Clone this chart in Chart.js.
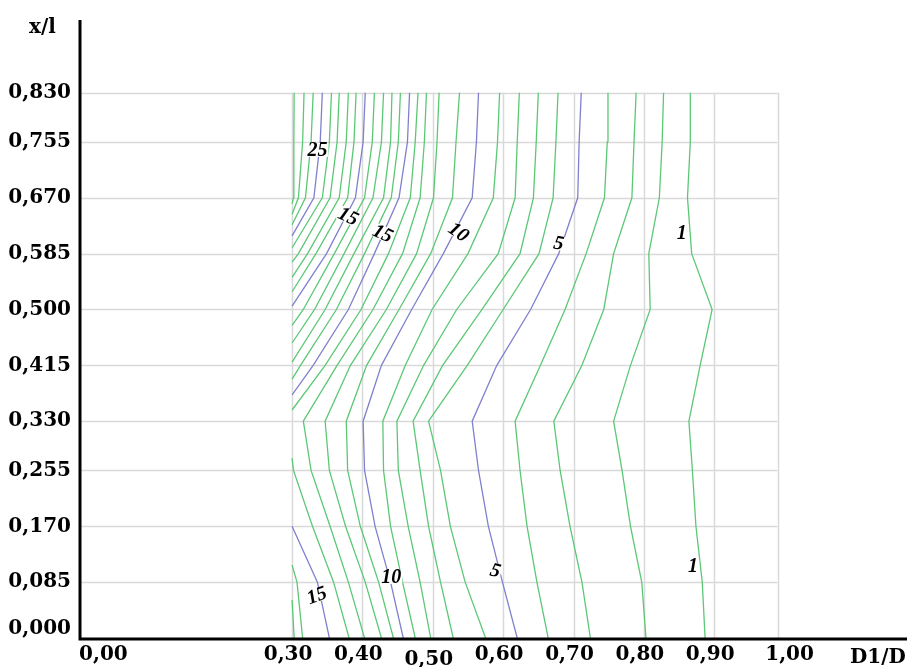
<!DOCTYPE html>
<html>
<head>
<meta charset="utf-8">
<title>D1/D contour</title>
<script src="https://cdn.jsdelivr.net/npm/chart.js@4.4.0/dist/chart.umd.min.js"></script>
<style>
  html, body { margin: 0; padding: 0; background: #fff; }
  #wrap { width: 911px; height: 667px; }
</style>
</head>
<body>
<div id="wrap"><canvas id="contour" width="911" height="667"></canvas></div>
<script>
// Rows of the data grid (x/l), bottom to top
const rows = [0, 0.085, 0.17, 0.255, 0.33, 0.415, 0.5, 0.585, 0.67, 0.755, 0.83];

// Axis ticks
const xTicks = [0, 0.3, 0.4, 0.5, 0.6, 0.7, 0.8, 0.9, 1.0];
const yTicks = [0, 0.085, 0.17, 0.255, 0.33, 0.415, 0.5, 0.585, 0.67, 0.755, 0.83];
const gridX = [0.3, 0.4, 0.5, 0.6, 0.7, 0.8, 0.9, 0.99];
const edgeX = 0.3;

// D1/D where each contour level crosses each row (null = not on that row)
const contourX = {
  1:  [0.887, 0.883, 0.874, 0.869, 0.864, 0.880, 0.897, 0.868, 0.862, 0.866, 0.866],
  2:  [0.803, 0.797, 0.781, 0.769, 0.757, 0.781, 0.809, 0.807, 0.822, 0.826, 0.828],
  3:  [0.724, 0.712, 0.695, 0.681, 0.672, 0.712, 0.743, 0.757, 0.783, 0.786, 0.789],
  4:  [0.664, 0.648, 0.634, 0.624, 0.617, 0.653, 0.688, 0.718, 0.744, 0.748, 0.749],
  5:  [0.620, 0.599, 0.579, 0.565, 0.556, 0.591, 0.639, 0.679, 0.706, 0.708, 0.711],
  6:  [0.575, 0.546, 0.525, 0.511, 0.494, 0.549, 0.600, 0.651, 0.671, 0.675, 0.678],
  7:  [0.529, 0.511, 0.494, 0.482, 0.472, 0.514, 0.570, 0.624, 0.643, 0.647, 0.650],
  8:  [0.497, 0.482, 0.465, 0.451, 0.449, 0.487, 0.534, 0.593, 0.617, 0.620, 0.623],
  9:  [0.475, 0.457, 0.440, 0.430, 0.429, 0.461, 0.499, 0.550, 0.586, 0.592, 0.595],
  10: [0.458, 0.440, 0.418, 0.403, 0.401, 0.427, 0.470, 0.515, 0.556, 0.562, 0.565],
  11: [0.444, 0.423, 0.397, 0.379, 0.377, 0.406, 0.452, 0.497, 0.528, 0.533, 0.538],
  12: [0.427, 0.404, 0.376, 0.353, 0.347, 0.383, 0.434, 0.477, 0.501, 0.506, 0.509],
  13: [0.403, 0.380, 0.354, 0.327, 0.316, 0.364, 0.415, 0.457, 0.482, 0.488, 0.491],
  14: [0.381, 0.359, 0.329, 0.302, null, 0.347, 0.398, 0.437, 0.468, 0.475, 0.479],
  15: [0.353, 0.336, null, null, null, 0.330, 0.380, 0.417, 0.452, 0.464, 0.467],
  16: [0.315, 0.307, null, null, null, 0.312, 0.363, 0.403, 0.441, 0.451, 0.454],
  17: [0.303, null, null, null, null, null, 0.347, 0.388, 0.430, 0.440, 0.442],
  18: [null, null, null, null, null, null, 0.332, 0.374, 0.415, 0.427, 0.430],
  19: [null, null, null, null, null, null, 0.316, 0.360, 0.403, 0.414, 0.417],
  20: [null, null, null, null, null, null, null, 0.349, 0.390, 0.401, 0.404],
  21: [null, null, null, null, null, null, null, 0.334, 0.379, 0.388, 0.391],
  22: [null, null, null, null, null, null, null, 0.322, 0.367, 0.377, 0.380],
  23: [null, null, null, null, null, null, null, 0.309, 0.354, 0.364, 0.367],
  24: [null, null, null, null, null, null, null, null, 0.343, 0.353, 0.356],
  25: [null, null, null, null, null, null, null, null, 0.331, 0.340, 0.343],
  26: [null, null, null, null, null, null, null, null, 0.319, 0.327, 0.330],
  27: [null, null, null, null, null, null, null, null, 0.309, 0.315, 0.317],
  28: [null, null, null, null, null, null, null, null, 0.302, 0.3025, 0.303]
};

// x/l where a level meets the left edge D1/D = 0.30 (ascending)
const edgeY = {
  14: [0.274, 0.347],
  15: [0.170, 0.370],
  16: [0.111, 0.394],
  17: [0.058, 0.420],
  18: [0.449],
  19: [0.476],
  20: [0.505],
  21: [0.527],
  22: [0.549],
  23: [0.572],
  24: [0.594],
  25: [0.612],
  26: [0.629],
  27: [0.645],
  28: [0.661]
};

// in-line labels: text, D1/D, x/l, angle (deg)
const contourLabels = [
  ['25', 0.336, 0.743, 0],
  ['15', 0.380, 0.642, 25],
  ['15', 0.429, 0.616, 25],
  ['10', 0.537, 0.618, 35],
  ['5', 0.679, 0.601, 10],
  ['1', 0.854, 0.616, 0],
  ['15', 0.335, 0.065, -20],
  ['10', 0.441, 0.093, 0],
  ['5', 0.589, 0.103, 15],
  ['1', 0.870, 0.110, 0]
];

const green = 'rgb(92,200,118)';
const blue = 'rgb(128,128,206)';
const labelFont = 'bold 20px "DejaVu Serif"';

function segmentsFor(xs, edges) {
  const segs = [];
  let cur = null;
  let e = 0;
  rows.forEach((y, i) => {
    const x = xs[i];
    if (x === null) {
      if (cur) {
        cur.push({ x: edgeX, y: edges[e++] });
        segs.push(cur);
        cur = null;
      }
      return;
    }
    if (!cur) {
      cur = [];
      if (i > 0) cur.push({ x: edgeX, y: edges[e++] });
    }
    cur.push({ x: x, y: y });
  });
  if (cur) segs.push(cur);
  return segs;
}

const datasets = [];
Object.keys(contourX).forEach(function(k) {
  const level = Number(k);
  segmentsFor(contourX[k], edgeY[k] || []).forEach(function(seg) {
    datasets.push({
      label: 'level ' + level,
      data: seg,
      showLine: true,
      borderColor: level % 5 === 0 ? blue : green,
      borderWidth: 1.3,
      pointRadius: 0,
      fill: false,
      tension: 0
    });
  });
});

const fmt = (v, d) => v.toFixed(d).replace('.', ',');

// grid, axes, tick labels and contour labels
const framePlugin = {
  id: 'frame',
  beforeDatasetsDraw(chart) {
    const ctx = chart.ctx;
    const xs = chart.scales.x, ys = chart.scales.y;
    ctx.save();
    ctx.strokeStyle = '#d9d9d9';
    ctx.lineWidth = 1.5;
    gridX.forEach(function(v) {
      const px = Math.round(xs.getPixelForValue(v)) + 0.5;
      ctx.beginPath();
      ctx.moveTo(px, ys.getPixelForValue(0));
      ctx.lineTo(px, ys.getPixelForValue(0.83));
      ctx.stroke();
    });
    yTicks.forEach(function(v) {
      if (v === 0) return;
      const py = Math.round(ys.getPixelForValue(v)) + 0.5;
      ctx.beginPath();
      ctx.moveTo(xs.getPixelForValue(0), py);
      ctx.lineTo(xs.getPixelForValue(0.99), py);
      ctx.stroke();
    });
    ctx.restore();
  },
  afterDatasetsDraw(chart) {
    const ctx = chart.ctx;
    const xs = chart.scales.x, ys = chart.scales.y;
    const area = chart.chartArea;
    ctx.save();

    // contour labels
    ctx.font = 'italic bold 20px "Liberation Serif"';
    ctx.textAlign = 'center';
    ctx.textBaseline = 'middle';
    contourLabels.forEach(function(l) {
      const px = xs.getPixelForValue(l[1]);
      const py = ys.getPixelForValue(l[2]);
      const w = ctx.measureText(l[0]).width;
      ctx.save();
      ctx.translate(px, py);
      ctx.rotate(l[3] * Math.PI / 180);
      ctx.fillStyle = '#fff';
      ctx.fillRect(-w / 2 - 1, -7, w + 2, 14);
      ctx.fillStyle = '#000';
      ctx.fillText(l[0], 0, 1);
      ctx.restore();
    });

    // axis lines
    ctx.strokeStyle = '#000';
    ctx.lineWidth = 3;
    ctx.beginPath();
    ctx.moveTo(area.left - 1, area.top);
    ctx.lineTo(area.left - 1, area.bottom + 1);
    ctx.lineTo(area.right, area.bottom + 1);
    ctx.stroke();

    ctx.fillStyle = '#000';
    ctx.font = labelFont;

    // y tick labels
    ctx.textAlign = 'right';
    ctx.textBaseline = 'middle';
    yTicks.forEach(function(v) {
      let py = ys.getPixelForValue(v);
      if (v === 0) py -= 9;
      ctx.fillText(fmt(v, 3), 71, py);
    });

    // x tick labels
    ctx.textBaseline = 'middle';
    xTicks.forEach(function(v) {
      const px = xs.getPixelForValue(v);
      let y = 655;
      if (v === 0) {
        ctx.textAlign = 'left';
        ctx.fillText(fmt(v, 2), px - 2, y);
        return;
      }
      ctx.textAlign = 'center';
      if (Math.abs(v - 0.5) < 1e-9) y += 5;
      ctx.fillText(fmt(v, 2), v === 1 ? px + 5 : px - 4, y);
    });

    // axis titles
    ctx.textAlign = 'left';
    ctx.textBaseline = 'alphabetic';
    ctx.fillText('x/l', 29, 33);
    ctx.fillText('D1/D', 850, 663);
    ctx.restore();
  }
};

new Chart(document.getElementById('contour').getContext('2d'), {
  type: 'scatter',
  data: { datasets: datasets },
  options: {
    responsive: false,
    devicePixelRatio: 1,
    animation: false,
    layout: { padding: { left: 81, right: 4, top: 20, bottom: 29 } },
    plugins: {
      legend: { display: false },
      tooltip: { enabled: false }
    },
    scales: {
      x: { type: 'linear', min: 0, max: 1.174, display: false },
      y: { type: 'linear', min: 0, max: 0.9406, display: false }
    }
  },
  plugins: [framePlugin]
});
</script>
</body>
</html>
